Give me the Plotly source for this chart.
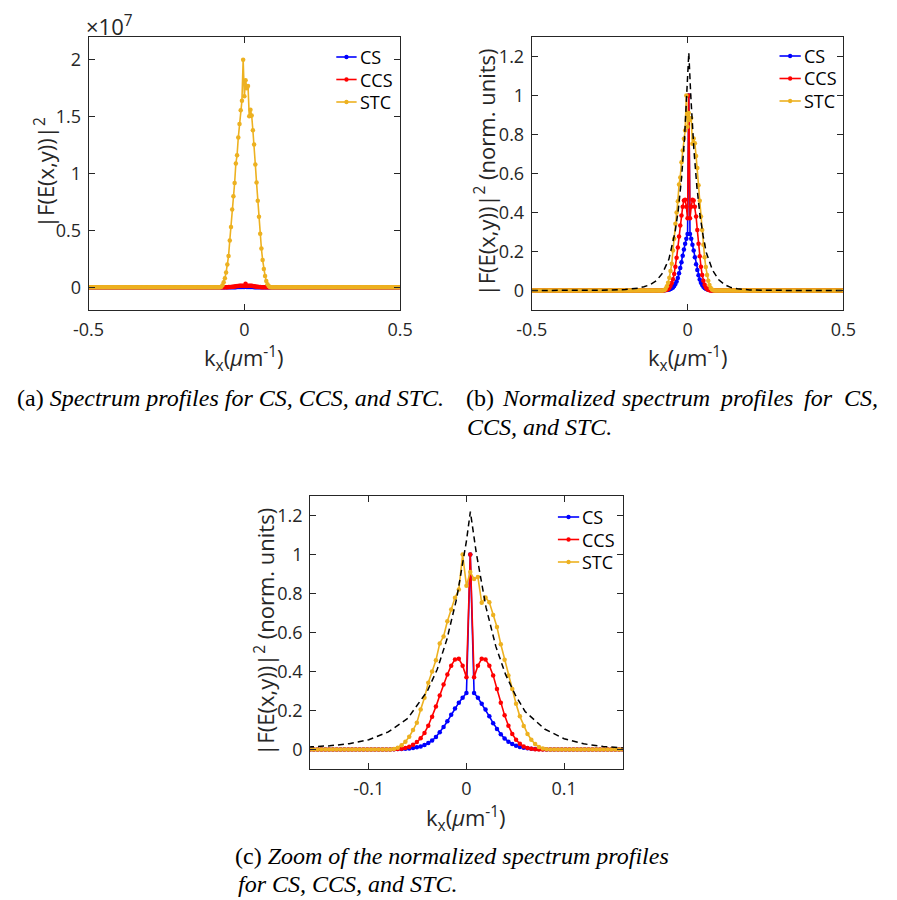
import plotly.graph_objects as go

W, H = 897, 900

# ---------------- data ----------------
# FFT frequency grid (256 samples, dk = 1/256 um^-1)
N_IDX = list(range(-128, 128))
KX = [n / 256 for n in N_IDX]

# normalized profiles for n = -24 .. 24 (zero elsewhere)
CORE_N0 = -24
CS_CORE = [0.0, 0.0, 0.0, 0.0, 0.0,
           0.001, 0.002, 0.003, 0.004, 0.005, 0.008, 0.011, 0.016, 0.023, 0.033,
           0.046, 0.064, 0.088, 0.115, 0.145, 0.178, 0.21, 0.24, 0.265, 0.29,
           1.0,
           0.29, 0.265, 0.235, 0.205, 0.17, 0.135, 0.105, 0.078, 0.056, 0.04,
           0.028, 0.019, 0.013, 0.009, 0.006, 0.004, 0.003, 0.002, 0.001,
           0.0, 0.0, 0.0, 0.0]
CCS_CORE = [0.0, 0.0, 0.0, 0.0, 0.0,
            0.001, 0.002, 0.004, 0.008, 0.014, 0.024, 0.038, 0.058, 0.085, 0.122,
            0.168, 0.22, 0.277, 0.333, 0.385, 0.43, 0.462, 0.465, 0.43, 0.37,
            1.0,
            0.37, 0.43, 0.465, 0.462, 0.43, 0.38, 0.31, 0.24, 0.175, 0.122,
            0.08, 0.05, 0.029, 0.016, 0.008, 0.004, 0.001, 0.0, 0.0,
            0.0, 0.0, 0.0, 0.0]
STC_CORE = [0.0, 0.0, 0.0, 0.0, 0.0,
            0.002, 0.009, 0.022, 0.04, 0.065, 0.10, 0.137, 0.205, 0.265, 0.342,
            0.40, 0.458, 0.544, 0.58, 0.658, 0.718, 0.778, 0.82, 1.0, 0.84,
            0.91,
            0.875, 0.885, 0.752, 0.78, 0.755, 0.69, 0.628, 0.54, 0.46, 0.38,
            0.31, 0.235, 0.17, 0.12, 0.08, 0.05, 0.028, 0.013, 0.005,
            0.001, 0.0, 0.0, 0.0]

# peak values of the un-normalized spectra (panel a)
CS_PEAK = 1.0e5
CCS_PEAK = 3.0e5
STC_PEAK = 2.0e7

# black dashed reference curve
DASH_K = [-0.5, -0.4, -0.3, -0.25, -0.2, -0.18, -0.16, -0.14, -0.12, -0.10, -0.08,
          -0.06, -0.04, -0.03, -0.02, -0.01, 0.0, 0.004, 0.01, 0.02, 0.03, 0.04,
          0.05, 0.06, 0.08, 0.10, 0.12, 0.14, 0.16, 0.18, 0.2, 0.25, 0.3, 0.4, 0.5]
DASH_V = [0.0, 0.0, 0.001, 0.002, 0.005, 0.008, 0.012, 0.019, 0.030, 0.050, 0.090,
          0.160, 0.300, 0.410, 0.565, 0.775, 1.07, 1.22, 1.01, 0.73, 0.53, 0.385,
          0.28, 0.195, 0.105, 0.055, 0.029, 0.015, 0.009, 0.005, 0.003, 0.001, 0.0, 0.0, 0.0]

SERIES = ["CS", "CCS", "STC"]
COLORS = {"CS": "#0000FF", "CCS": "#FF0000", "STC": "#EDB120"}


def full(core):
    out = [0.0] * len(N_IDX)
    for i, v in enumerate(core):
        out[CORE_N0 + i + 128] = v
    return out


NORM = {"CS": full(CS_CORE), "CCS": full(CCS_CORE), "STC": full(STC_CORE)}
PEAK = {"CS": CS_PEAK, "CCS": CCS_PEAK, "STC": STC_PEAK}
ABS = {s: [v * PEAK[s] for v in NORM[s]] for s in SERIES}

# ---------------- layout helpers ----------------
AX = "#262626"
TICKFONT = dict(family="Open Sans", size=18, color=AX)


def px_x(p):
    return p / W


def px_y(p):
    return 1 - p / H


# panel boxes in pixels: (left, right, top, bottom)
BOX = {1: (75, 397, 37, 310), 2: (533, 855, 37, 310), 3: (304, 627, 496, 769)}

fig = go.Figure()

for p in (1, 2, 3):
    xa = "x" if p == 1 else f"x{p}"
    ya = "y" if p == 1 else f"y{p}"
    data = ABS if p == 1 else NORM
    for s in SERIES:
        fig.add_trace(go.Scatter(
            x=KX, y=data[s], mode="lines+markers", name=s,
            line=dict(color=COLORS[s], width=1.6),
            marker=dict(color=COLORS[s], size=4.5),
            xaxis=xa, yaxis=ya, showlegend=False))
    if p != 1:
        fig.add_trace(go.Scatter(
            x=DASH_K, y=DASH_V, mode="lines", name="ref",
            line=dict(color="black", width=1.5, dash="6px,4px"),
            xaxis=xa, yaxis=ya, showlegend=False))


def axis_common():
    return dict(showline=True, linecolor=AX, linewidth=1, mirror="ticks",
                ticks="inside", ticklen=6, tickwidth=1, tickcolor=AX,
                showgrid=False, zeroline=False, tickfont=TICKFONT,
                ticklabelstandoff=3)


layout = dict(width=W, height=H, margin=dict(l=0, r=0, t=0, b=0),
              paper_bgcolor="white", plot_bgcolor="white", showlegend=False)

for p in (1, 2, 3):
    l, r, t, b = BOX[p]
    xk = "xaxis" if p == 1 else f"xaxis{p}"
    yk = "yaxis" if p == 1 else f"yaxis{p}"
    anchor_x = "y" if p == 1 else f"y{p}"
    anchor_y = "x" if p == 1 else f"x{p}"
    xa = axis_common()
    ya = axis_common()
    xa.update(domain=[px_x(l), px_x(r)], anchor=anchor_x)
    ya.update(domain=[px_y(b), px_y(t)], anchor=anchor_y)
    if p in (1, 2):
        xa.update(range=[-0.5, 0.5], tickvals=[-0.5, 0, 0.5], ticktext=["-0.5", "0", "0.5"])
    else:
        xa.update(range=[-0.16, 0.16], tickvals=[-0.1, 0, 0.1], ticktext=["-0.1", "0", "0.1"])
    if p == 1:
        ya.update(range=[-0.2e7, 2.2e7], tickvals=[0, 0.5e7, 1e7, 1.5e7, 2e7],
                  ticktext=["0", "0.5", "1", "1.5", "2"])
    else:
        ya.update(range=[-0.1, 1.3], tickvals=[0, 0.2, 0.4, 0.6, 0.8, 1.0, 1.2],
                  ticktext=["0", "0.2", "0.4", "0.6", "0.8", "1", "1.2"])
    layout[xk] = xa
    layout[yk] = ya

fig.update_layout(**layout)

# ---------------- legends (drawn as shapes + text, MATLAB-like compact) ----------------
# (line start px, line end px, first row px, row step px)
LEG = {1: (331, 352, 57, 22.5), 2: (789, 811, 56, 22.5), 3: (560, 582, 517, 22.5)}
shapes = []
ann = []
for p, (lx0, lx1, ry0, dy) in LEG.items():
    for i, s in enumerate(SERIES):
        yy = ry0 + i * dy
        shapes.append(dict(type="line", xref="paper", yref="paper",
                           x0=px_x(lx0), x1=px_x(lx1), y0=px_y(yy), y1=px_y(yy),
                           line=dict(color=COLORS[s], width=1.6)))
        cx = (lx0 + lx1) / 2
        shapes.append(dict(type="circle", xref="paper", yref="paper",
                           x0=px_x(cx - 2.2), x1=px_x(cx + 2.2),
                           y0=px_y(yy + 2.2), y1=px_y(yy - 2.2),
                           fillcolor=COLORS[s], line=dict(width=0)))
        ann.append(dict(text=s, x=px_x(lx1 + 1), y=px_y(yy), xref="paper", yref="paper",
                        showarrow=False, xanchor="left", yanchor="middle", align="left",
                        font=dict(family="Open Sans", size=18, color="black")))

TITLEFONT = dict(family="Open Sans", size=22, color=AX)
XTITLE = "k<sub>x</sub>(<i>μ</i>m<sup>-1</sup>)"
YTITLE_A = "|F(E(x,y))|<sup>2</sup>"
YTITLE_N = "|F(E(x,y))|<sup>2</sup> (norm. units)"

for p, (cx, cy) in {1: (236, 358), 2: (694, 358), 3: (465.5, 818)}.items():
    ann.append(dict(text=XTITLE, x=px_x(cx), y=px_y(cy), xref="paper", yref="paper",
                    showarrow=False, font=TITLEFONT, xanchor="center", yanchor="middle"))
for p, (cx, cy, txt) in {1: (30, 173, YTITLE_A), 2: (484, 172, YTITLE_N),
                         3: (256, 632, YTITLE_N)}.items():
    ann.append(dict(text=txt, x=px_x(cx), y=px_y(cy), xref="paper", yref="paper",
                    showarrow=False, font=TITLEFONT, textangle=-90,
                    xanchor="center", yanchor="middle"))
ann.append(dict(text="×10<sup>7</sup>", x=px_x(97), y=px_y(25), xref="paper", yref="paper",
                showarrow=False, font=dict(family="Open Sans", size=22, color=AX),
                xanchor="center", yanchor="middle"))

CAPFONT = dict(family="Liberation Serif", size=24, color="black")


def cap(text, cx, cy):
    ann.append(dict(text=text, x=px_x(cx), y=px_y(cy), xref="paper", yref="paper",
                    showarrow=False, font=CAPFONT, xanchor="center", yanchor="middle"))


cap("(a) <i>Spectrum profiles for CS, CCS, and STC.</i>", 222, 398)
for word, cx in [("(b)", 479.5), ("<i>Normalized</i>", 561), ("<i>spectrum</i>", 672),
                 ("<i>profiles</i>", 765), ("<i>for</i>", 829), ("<i>CS,</i>", 873)]:
    cap(word, cx, 398)
cap("<i>CCS, and STC.</i>", 541, 427)
cap("(c) <i>Zoom of the normalized spectrum profiles</i>", 450.5, 856)
cap("<i>for CS, CCS, and STC.</i>", 343, 884)

fig.update_layout(annotations=ann, shapes=shapes)
fig.write_html("out.html")
